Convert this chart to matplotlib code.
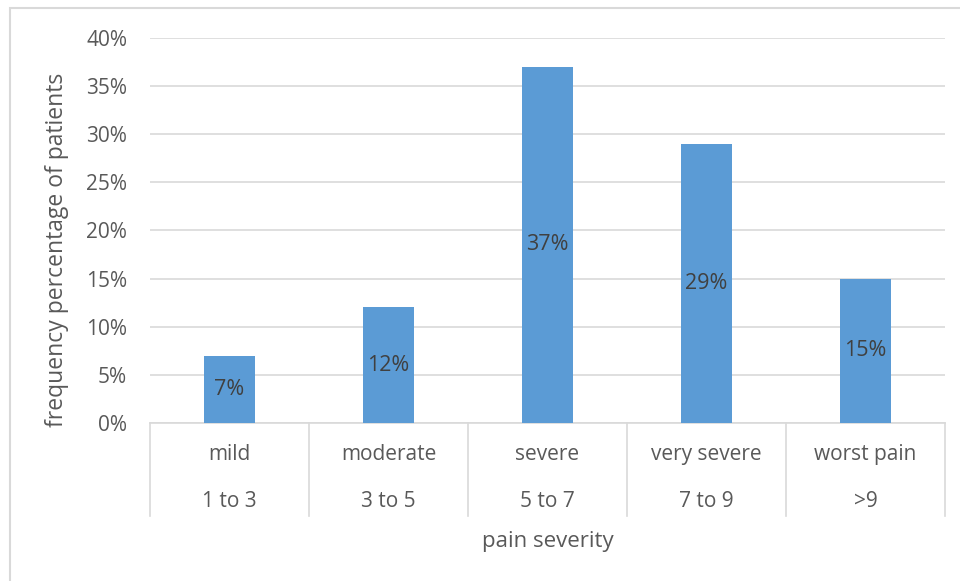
import matplotlib.pyplot as plt
from matplotlib.patches import Rectangle

# data
levels = ["mild", "moderate", "severe", "very severe", "worst pain"]
ranges = ["1 to 3", "3 to 5", "5 to 7", "7 to 9", ">9"]
values = [7, 12, 37, 29, 15]

plt.rcParams['font.family'] = ['Open Sans', 'DejaVu Sans']
txt = '#595959'
grid = '#D9D9D9'
bar_color = '#5B9BD5'

fig = plt.figure(figsize=(9.6, 5.81), dpi=100)
# chart border (left/top edges visible)
fig.patches.append(Rectangle((10/960, -0.01), 1.0, (581-8)/581 + 0.01, transform=fig.transFigure,
                             fill=False, edgecolor='#D9D9D9', linewidth=1.5))

ax = fig.add_axes([150/960, (581-423)/581, 795/960, 385/581])
x = list(range(len(values)))
bars = ax.bar(x, values, width=0.315, color=bar_color, zorder=3)
for xi, v in zip(x, values):
    ax.text(xi, v / 2, "%d%%" % v, ha='center', va='center', fontsize=15.5, color='#404040', zorder=4)

ax.set_xlim(-0.5, len(values) - 0.5)
ax.set_ylim(0, 40)
ax.set_yticks(range(0, 41, 5))
ax.set_yticklabels(["%d%%" % t for t in range(0, 41, 5)], fontsize=15, color=txt)
ax.tick_params(axis='y', length=0, pad=16.5)
ax.set_xticks([])
ax.grid(axis='y', color=grid, linewidth=1.2, zorder=0)
for s in ['top', 'right', 'left']:
    ax.spines[s].set_visible(False)
ax.spines['bottom'].set_color(grid)
ax.spines['bottom'].set_linewidth(1.2)

# multi-level category axis
trans = ax.get_xaxis_transform()
for b in range(len(values) + 1):
    ax.plot([b - 0.5, b - 0.5], [0, -0.242], transform=trans, color=grid, linewidth=1.2, clip_on=False)
for xi in x:
    ax.text(xi, -0.083, levels[xi], transform=trans, ha='center', va='center', fontsize=15, color=txt)
    ax.text(xi, -0.203, ranges[xi], transform=trans, ha='center', va='center', fontsize=15, color=txt)

ax.text(0.5, -0.307, "pain severity", transform=ax.transAxes, ha='center', va='center', fontsize=16, color=txt)
fig.text(57/960, 1 - 250/581, "frequency percentage of patients", rotation=90, ha='center', va='center',
         fontsize=16.5, color=txt)

fig.savefig('out.png', dpi=100)
